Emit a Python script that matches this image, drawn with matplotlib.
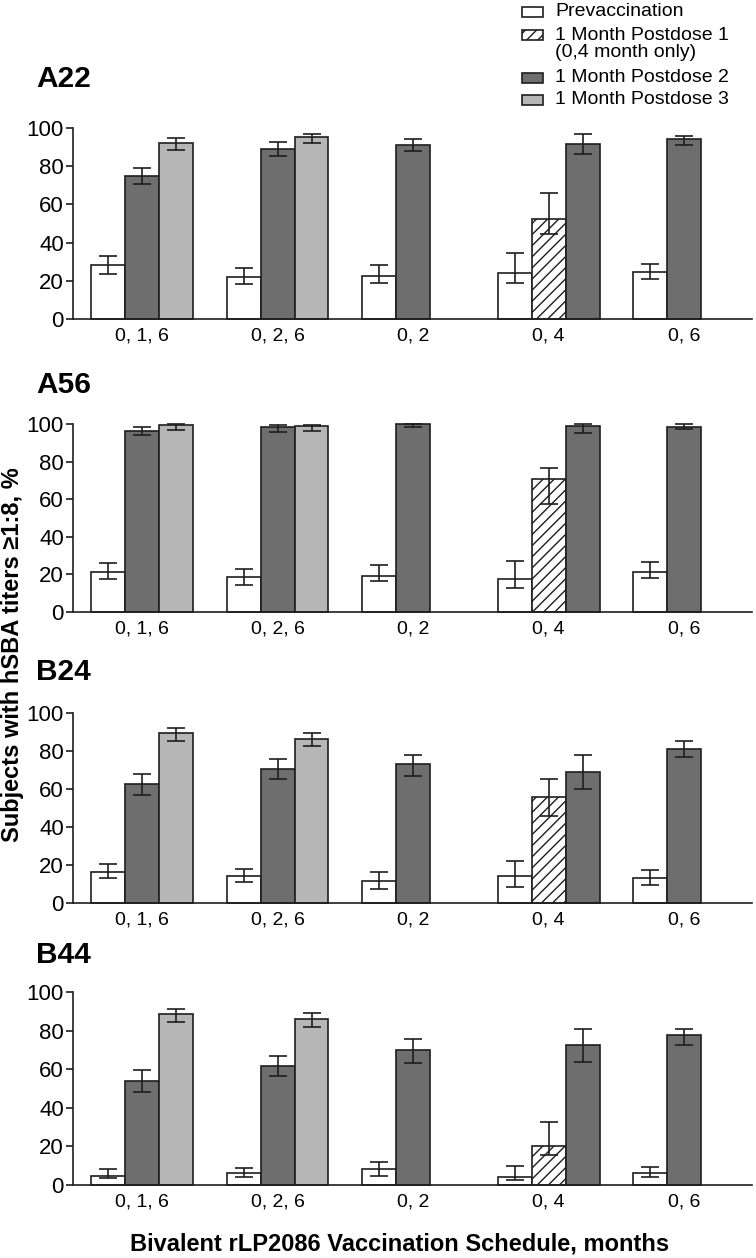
"""
hSBA response rates by vaccination schedule, four test strains.

Output:
    out.png
"""

import numpy as np
import matplotlib.pyplot as plt
from matplotlib.patches import Rectangle

plt.rcParams["font.family"] = ["Liberation Sans", "DejaVu Sans"]
plt.rcParams["hatch.linewidth"] = 1.0

# ---------------------------------------------------------------------
# Data, rows = strains, columns = schedules
# ---------------------------------------------------------------------
STRAINS = ["A22", "A56", "B24", "B44"]
SCHEDULES = ["0, 1, 6", "0, 2, 6", "0, 2", "0, 4", "0, 6"]
NA = np.nan

PRE = [[28.4, 21.9, 22.6, 24.2, 24.7],
       [21.1, 18.6, 19.1, 17.5, 21.4],
       [16.1, 14.0, 11.6, 14.4, 13.2],
       [4.8, 6.0, 8.1, 4.0, 6.0]]
PRE_LO = [[23.5, 18.3, 18.8, 18.9, 21.1],
          [17.4, 14.4, 16.7, 12.9, 18.3],
          [13.0, 11.2, 7.5, 8.4, 9.6],
          [3.5, 4.3, 4.7, 2.6, 4.3]]
PRE_HI = [[33.0, 26.5, 28.1, 34.7, 28.9],
          [25.9, 22.9, 25.2, 27.0, 26.8],
          [20.5, 18.1, 16.5, 22.1, 17.4],
          [8.3, 8.8, 11.9, 9.8, 9.5]]

PD1 = [[NA, NA, NA, 52.5, NA],
       [NA, NA, NA, 70.6, NA],
       [NA, NA, NA, 55.6, NA],
       [NA, NA, NA, 20.2, NA]]
PD1_LO = [[NA, NA, NA, 44.7, NA],
          [NA, NA, NA, 57.4, NA],
          [NA, NA, NA, 45.8, NA],
          [NA, NA, NA, 15.5, NA]]
PD1_HI = [[NA, NA, NA, 65.9, NA],
          [NA, NA, NA, 76.8, NA],
          [NA, NA, NA, 65.3, NA],
          [NA, NA, NA, 32.5, NA]]

PD2 = [[75.1, 88.9, 91.2, 91.7, 94.0],
       [96.3, 98.4, 100.0, 99.1, 98.2],
       [62.5, 70.4, 73.0, 68.9, 80.9],
       [53.9, 61.8, 69.9, 72.7, 77.7]]
PD2_LO = [[70.9, 85.3, 87.7, 86.3, 90.9],
          [94.0, 95.7, 98.2, 95.4, 97.2],
          [56.8, 65.1, 67.0, 60.0, 76.7],
          [48.2, 56.3, 63.4, 63.6, 72.5]]
PD2_HI = [[79.3, 92.8, 94.0, 96.7, 95.8],
          [98.2, 99.5, 100.0, 100.0, 100.0],
          [67.7, 75.8, 77.9, 77.9, 85.4],
          [59.6, 67.0, 75.6, 80.8, 81.0]]

PD3 = [[92.1, 95.4, NA, NA, NA],
       [99.3, 99.0, NA, NA, NA],
       [89.3, 86.5, NA, NA, NA],
       [88.6, 86.0, NA, NA, NA]]
PD3_LO = [[88.4, 92.3, NA, NA, NA],
          [97.0, 96.5, NA, NA, NA],
          [85.1, 82.6, NA, NA, NA],
          [84.3, 81.7, NA, NA, NA]]
PD3_HI = [[94.7, 97.0, NA, NA, NA],
          [99.9, 99.7, NA, NA, NA],
          [92.0, 89.5, NA, NA, NA],
          [91.3, 89.1, NA, NA, NA]]

LEGEND_LABELS = ["Prevaccination", "1 Month Postdose 1\n(0,4 month only)",
                 "1 Month Postdose 2", "1 Month Postdose 3"]

# ---------------------------------------------------------------------
# Styling
# ---------------------------------------------------------------------
W, H = 756, 1258
EDGE = "#1e1e1e"
STYLES = [
    dict(color="white", hatch=None),
    dict(color="white", hatch="///"),
    dict(color="#6e6e6e", hatch=None),
    dict(color="#b6b6b6", hatch=None),
]
BAR_W = 0.25
# axes pixel extents (top, bottom) and title baselines
AX_PIX = [(128, 319), (424, 612), (713, 903), (992, 1185)]
TITLE_BASE = [87, 393, 680, 963]
AX_LEFT, AX_RIGHT = 73, 752
FS = 14


def fx(px):
    return px / W


def fy(py):
    return 1 - py / H


def offsets(j):
    """Slot offsets for pre, pd1, pd2, pd3 in schedule column j."""
    if not np.isnan(PD1[0][j]):
        return [-BAR_W, 0.0, BAR_W, NA]
    return [-BAR_W, NA, 0.0, BAR_W]


def draw_panel(ax, i):
    series = [(PRE, PRE_LO, PRE_HI), (PD1, PD1_LO, PD1_HI),
              (PD2, PD2_LO, PD2_HI), (PD3, PD3_LO, PD3_HI)]
    for j in range(len(SCHEDULES)):
        offs = offsets(j)
        for k, (val, lo, hi) in enumerate(series):
            v = val[i][j]
            if np.isnan(v):
                continue
            x = j + offs[k]
            st = STYLES[k]
            ax.bar(x, v, width=BAR_W, color=st["color"], hatch=st["hatch"],
                   edgecolor=EDGE, linewidth=1.2, zorder=2, clip_on=False)
            ax.errorbar(x, v, yerr=[[v - lo[i][j]], [hi[i][j] - v]],
                        fmt="none", ecolor=EDGE, elinewidth=1.2,
                        capsize=6.5, capthick=1.2, zorder=3, clip_on=False)

    ax.set_xlim(-0.51, 4.50)
    ax.set_ylim(0, 100)
    ax.set_yticks([0, 20, 40, 60, 80, 100])
    ax.set_xticks(range(len(SCHEDULES)))
    ax.set_xticklabels(SCHEDULES)
    ax.tick_params(axis="x", length=0, pad=6, labelsize=FS)
    ax.tick_params(axis="y", length=5, width=1.2, pad=1.5, labelsize=16,
                   color=EDGE)
    for side in ("top", "right"):
        ax.spines[side].set_visible(False)
    for side in ("left", "bottom"):
        ax.spines[side].set_linewidth(1.2)
        ax.spines[side].set_color(EDGE)


def draw_legend(fig):
    rows_y = [12, 35, 78, 100]
    text_y = [12, 44, 78, 100]
    for k, (py, ty) in enumerate(zip(rows_y, text_y)):
        st = STYLES[k]
        fig.patches.append(Rectangle((fx(522), fy(py + 5)), fx(21), 10 / H,
                                     facecolor=st["color"], hatch=st["hatch"],
                                     edgecolor=EDGE, linewidth=1.2,
                                     transform=fig.transFigure))
        fig.text(fx(555), fy(ty), LEGEND_LABELS[k], fontsize=FS,
                 va="center", ha="left", linespacing=1.0)


def main():
    fig = plt.figure(figsize=(W / 100, H / 100), dpi=100)
    for i, name in enumerate(STRAINS):
        top, bot = AX_PIX[i]
        ax = fig.add_axes([fx(AX_LEFT), fy(bot), fx(AX_RIGHT - AX_LEFT),
                           (bot - top) / H])
        draw_panel(ax, i)
        fig.text(fx(36), fy(TITLE_BASE[i]), name, fontsize=21.5,
                 fontweight="bold", ha="left", va="baseline")

    draw_legend(fig)
    fig.text(fx(13), fy(655), "Subjects with hSBA titers \u22651:8, %",
             rotation=90, fontsize=17, fontweight="bold",
             ha="center", va="center")
    fig.text(fx(400), fy(1250), "Bivalent rLP2086 Vaccination Schedule, months",
             fontsize=17, fontweight="bold", ha="center", va="baseline")
    fig.savefig("out.png", dpi=100)
    plt.close(fig)


if __name__ == "__main__":
    main()
